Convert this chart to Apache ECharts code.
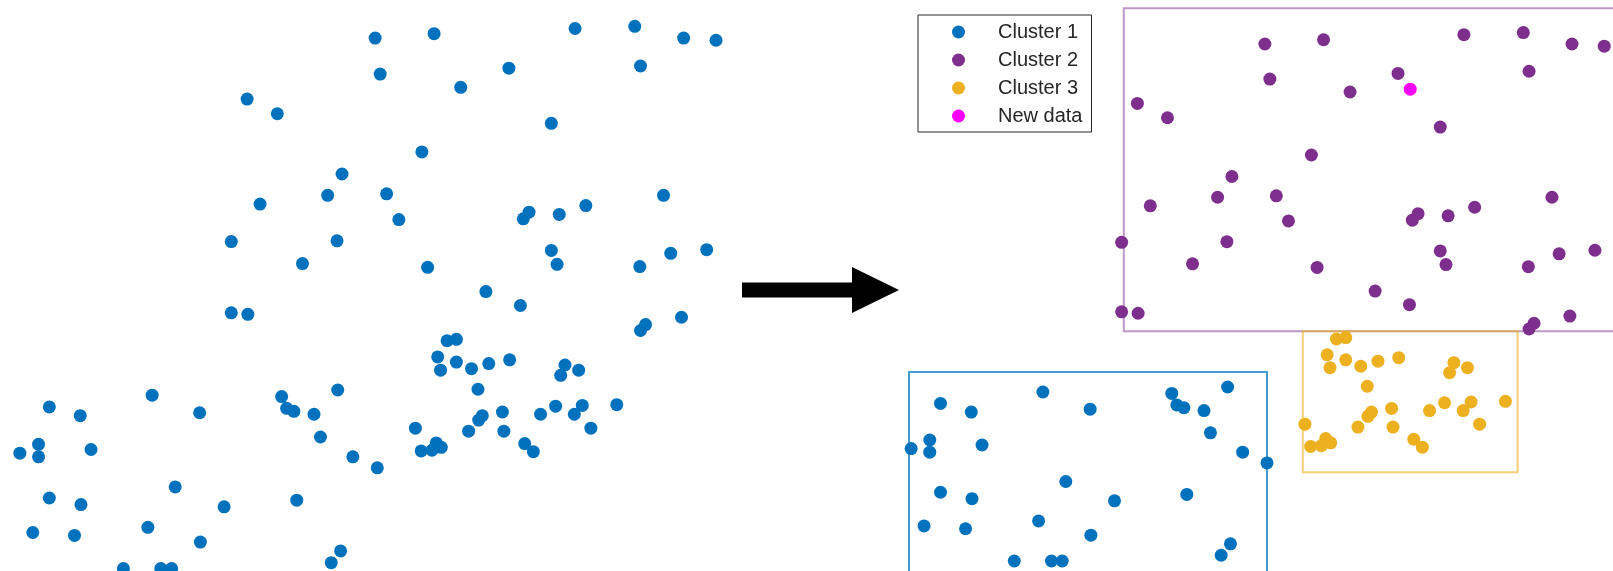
<!DOCTYPE html>
<html>
<head>
<meta charset="utf-8">
<script src="https://cdn.jsdelivr.net/npm/echarts@6/dist/echarts.min.js"></script>
<style>
html,body{margin:0;padding:0;background:#fff;}
#chart{width:1613px;height:571px;}
</style>
</head>
<body>
<div id="chart"></div>
<script>
// ---- data (x, y) ----
const cluster1 = [
  [0.44,2.34],[0.87,2.22],[1.87,2.50],[2.53,2.26],[3.67,2.48],[3.74,2.32],
  [3.84,2.28],[4.12,2.24],[4.45,2.57],[4.21,1.93],[4.66,1.66],[0.29,1.83],
  [0.03,1.71],[0.29,1.66],[1.02,1.76],[2.19,1.25],[0.44,1.10],[0.88,1.01],
  [2.87,0.98],[3.88,1.07],[0.21,0.63],[0.79,0.59],[1.81,0.70],[2.54,0.50],
  [4.49,0.38],[4.36,0.22],[1.47,0.14],[1.99,0.14],[2.14,0.14],[5.00,1.51]
];
const cluster2 = [
  [3.19,6.53],[3.61,6.33],[4.51,5.51],[4.31,5.22],[3.37,5.10],[2.97,4.59],
  [4.44,4.60],[3.96,4.29],[2.97,3.62],[3.20,3.60],[4.97,7.36],[5.79,7.42],
  [7.75,7.49],[8.58,7.52],[9.26,7.36],[9.71,7.33],[5.04,6.87],[6.83,6.95],
  [6.16,6.69],[8.66,6.98],[7.42,6.20],[5.62,5.81],[5.13,5.24],[5.30,4.89],
  [7.11,4.99],[7.03,4.90],[7.53,4.96],[7.90,5.08],[8.98,5.22],[7.42,4.47],
  [7.50,4.28],[5.70,4.24],[8.65,4.25],[9.08,4.43],[9.58,4.48],[6.51,3.91],
  [6.99,3.72],[9.23,3.56],[8.73,3.46],[8.66,3.38]
];
const cluster3 = [
  [5.97,3.24],[6.10,3.26],[5.84,3.02],[5.88,2.84],[6.10,2.95],[6.31,2.86],
  [6.55,2.93],[6.84,2.98],[6.40,2.58],[7.61,2.91],[7.55,2.77],[7.80,2.84],
  [8.33,2.37],[7.48,2.35],[7.85,2.36],[7.74,2.24],[7.27,2.24],[6.74,2.27],
  [6.46,2.22],[6.41,2.16],[6.27,2.01],[6.76,2.01],[7.97,2.05],[5.53,2.05],
  [5.61,1.74],[5.76,1.75],[5.82,1.85],[5.89,1.79],[7.05,1.84],[7.17,1.73]
];
const newData = [[7.00,6.73]];
// cluster regions: [xMin, yMin, xMax, yMax]
const region1 = [0.00, -0.50, 5.00, 2.78];
const region2 = [3.00, 3.35, 10.50, 7.86];
const region3 = [5.50, 1.38, 8.50, 3.35];
const legendNames = ['Cluster 1', 'Cluster 2', 'Cluster 3', 'New data'];

// ---- styling / layout ----
const COLORS = ['#0072BD', '#7E2F8E', '#EDB120', '#FF00FF'];
const BOX_COLORS = ['rgba(0,114,189,0.72)', 'rgba(126,47,142,0.5)', 'rgba(237,177,32,0.62)'];
const FONT = "'Liberation Sans', Arial, Helvetica, sans-serif";

// pixel geometry of the two panels (origin pixel and pixels per unit)
const LEFT  = {left: 0,   width: 740, top: 0, height: 571, x0: 17.69, y0: 578.8, sx: 71.92, sy: 73.47};
const RIGHT = {left: 880, width: 733, top: 0, height: 571, x0: 909,   y0: 571,   sx: 71.6,  sy: 71.6};
function axisRange(g) {
  return {
    xMin: (g.left - g.x0) / g.sx,
    xMax: (g.left + g.width - g.x0) / g.sx,
    yMax: (g.y0 - g.top) / g.sy,
    yMin: (g.y0 - (g.top + g.height)) / g.sy
  };
}
const rL = axisRange(LEFT), rR = axisRange(RIGHT);

const allPoints = cluster1.concat(cluster2, cluster3);

function boxSeries(region, color, z) {
  return {
    type: 'custom',
    xAxisIndex: 1, yAxisIndex: 1,
    clip: false,
    silent: true,
    z: z,
    data: [region],
    encode: {x: [0, 2], y: [1, 3]},
    renderItem: function (params, api) {
      const p0 = api.coord([api.value(0), api.value(3)]);
      const p1 = api.coord([api.value(2), api.value(1)]);
      return {
        type: 'rect',
        shape: {x: p0[0], y: p0[1], width: p1[0] - p0[0], height: p1[1] - p0[1]},
        style: {fill: null, stroke: color, lineWidth: 2}
      };
    }
  };
}

function scatter(name, data, color, xi) {
  return {
    name: name,
    type: 'scatter',
    xAxisIndex: xi, yAxisIndex: xi,
    data: data,
    symbol: 'circle',
    symbolSize: 13,
    clip: false,
    z: 5,
    itemStyle: {color: color, opacity: 1},
    emphasis: {disabled: true}
  };
}

const chart = echarts.init(document.getElementById('chart'), null, {renderer: 'canvas'});
chart.setOption({
  animation: false,
  backgroundColor: '#ffffff',
  grid: [
    {left: LEFT.left, top: LEFT.top, width: LEFT.width, height: LEFT.height},
    {left: RIGHT.left, top: RIGHT.top, width: RIGHT.width, height: RIGHT.height}
  ],
  xAxis: [
    {type: 'value', gridIndex: 0, min: rL.xMin, max: rL.xMax, show: false},
    {type: 'value', gridIndex: 1, min: rR.xMin, max: rR.xMax, show: false}
  ],
  yAxis: [
    {type: 'value', gridIndex: 0, min: rL.yMin, max: rL.yMax, show: false},
    {type: 'value', gridIndex: 1, min: rR.yMin, max: rR.yMax, show: false}
  ],
  legend: {
    data: legendNames,
    orient: 'vertical',
    left: 918, top: 15,
    padding: [7, 9, 6, 34],
    itemWidth: 69, itemHeight: 13, itemGap: 8,
    icon: 'circle',
    selectedMode: false,
    backgroundColor: '#ffffff',
    borderColor: '#262626', borderWidth: 1,
    textStyle: {fontFamily: FONT, fontSize: 20, color: '#262626'}
  },
  graphic: [
    {
      type: 'polygon',
      shape: {points: [[742, 282.5], [852, 282.5], [852, 267], [899, 290], [852, 313], [852, 297.5], [742, 297.5]]},
      style: {fill: '#000000'}
    }
  ],
  series: [
    scatter('All data', allPoints, COLORS[0], 0),
    boxSeries(region1, BOX_COLORS[0], 2),
    boxSeries(region2, BOX_COLORS[1], 2),
    boxSeries(region3, BOX_COLORS[2], 3),
    scatter(legendNames[0], cluster1, COLORS[0], 1),
    scatter(legendNames[1], cluster2, COLORS[1], 1),
    scatter(legendNames[2], cluster3, COLORS[2], 1),
    scatter(legendNames[3], newData, COLORS[3], 1)
  ]
});
</script>
</body>
</html>
